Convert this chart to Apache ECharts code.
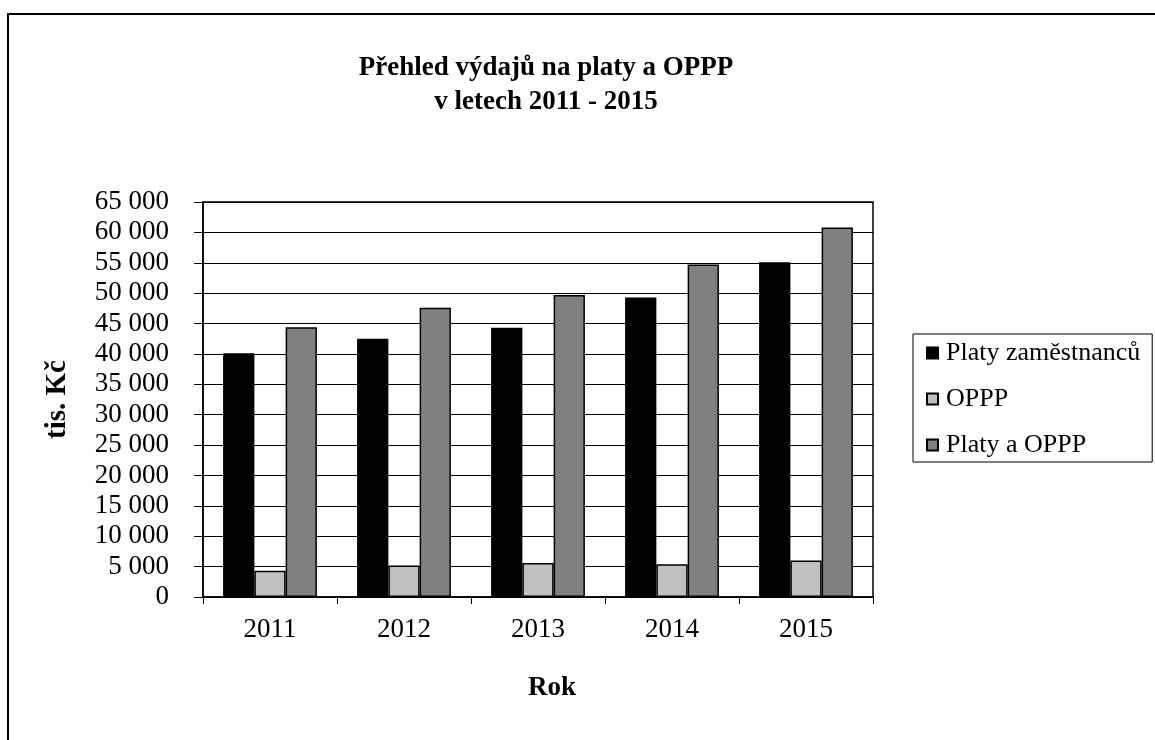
<!DOCTYPE html>
<html>
<head>
<meta charset="utf-8">
<script src="https://cdn.jsdelivr.net/npm/echarts@6/dist/echarts.min.js"></script>
<style>
  html, body { margin: 0; padding: 0; background: #fff; }
  #chart { width: 1155px; height: 740px; }
</style>
</head>
<body>
<div id="chart"></div>
<script>
// data (tis. Kč)
const years = ['2011', '2012', '2013', '2014', '2015']
const platy = [40100, 42500, 44300, 49300, 55100]
const oppp = [4300, 5200, 5600, 5400, 6000]
const platyAOppp = [44400, 47600, 49700, 54700, 60800]

const seriesNames = ['Platy zaměstnanců', 'OPPP', 'Platy a OPPP']
const seriesColors = ['#000000', '#c0c0c0', '#808080']

const font = 'Liberation Serif, Times New Roman, serif'

function fmt(v) {
  return String(v).replace(/\B(?=(\d{3})+(?!\d))/g, ' ')
}

const chart = echarts.init(document.getElementById('chart'))

chart.setOption({
  animation: false,
  backgroundColor: '#fff',
  textStyle: { fontFamily: font, color: '#000' },
  graphic: [
    {
      type: 'rect',
      shape: { x: 8, y: 14, width: 1200, height: 800 },
      style: { fill: 'none', stroke: '#000', lineWidth: 2 },
      silent: true
    }
  ],
  title: {
    text: 'Přehled výdajů na platy a OPPP\nv letech 2011 - 2015',
    left: 541,
    top: 46,
    textAlign: 'center',
    textStyle: {
      fontFamily: font,
      fontSize: 27,
      fontWeight: 'bold',
      color: '#000',
      lineHeight: 34
    }
  },
  legend: {
    data: seriesNames,
    orient: 'vertical',
    left: 913,
    top: 334,
    padding: [6, 12, 4, 13],
    itemGap: 20,
    itemWidth: 11,
    itemHeight: 11,
    borderColor: '#000',
    borderWidth: 1,
    icon: 'rect',
    textStyle: { fontFamily: font, fontSize: 26, color: '#000', padding: [0, 0, 0, 3] },
    selectedMode: false
  },
  grid: {
    left: 203,
    top: 202,
    right: 282,
    bottom: 143,
    show: true,
    borderColor: '#000',
    borderWidth: 1.5
  },
  xAxis: {
    type: 'category',
    data: years,
    name: 'Rok',
    nameLocation: 'middle',
    nameGap: 78,
    nameTextStyle: { fontFamily: font, fontSize: 27, fontWeight: 'bold', color: '#000', padding: [0, 0, 0, 28] },
    axisLine: { lineStyle: { color: '#000', width: 1.5 } },
    axisTick: { show: true, length: 7, lineStyle: { color: '#000' } },
    axisLabel: { fontFamily: font, fontSize: 27, color: '#000', margin: 19 }
  },
  yAxis: {
    type: 'value',
    min: 0,
    max: 65000,
    interval: 5000,
    name: 'tis. Kč',
    nameLocation: 'middle',
    nameGap: 131,
    nameTextStyle: { fontFamily: font, fontSize: 29, fontWeight: 'bold', color: '#000' },
    axisLine: { show: true, lineStyle: { color: '#000', width: 1.5 } },
    axisTick: { show: true, length: 9, lineStyle: { color: '#000' } },
    axisLabel: { fontFamily: font, fontSize: 27, color: '#000', margin: 34, formatter: fmt },
    splitLine: { lineStyle: { color: '#000', width: 1 } }
  },
  series: [
    {
      name: seriesNames[0],
      type: 'bar',
      data: platy,
      barGap: '0%',
      barCategoryGap: '30%',
      itemStyle: { color: seriesColors[0], borderColor: '#000', borderWidth: 1.5 }
    },
    {
      name: seriesNames[1],
      type: 'bar',
      data: oppp,
      itemStyle: { color: seriesColors[1], borderColor: '#000', borderWidth: 1.5 }
    },
    {
      name: seriesNames[2],
      type: 'bar',
      data: platyAOppp,
      itemStyle: { color: seriesColors[2], borderColor: '#000', borderWidth: 1.5 }
    }
  ]
})
</script>
</body>
</html>
